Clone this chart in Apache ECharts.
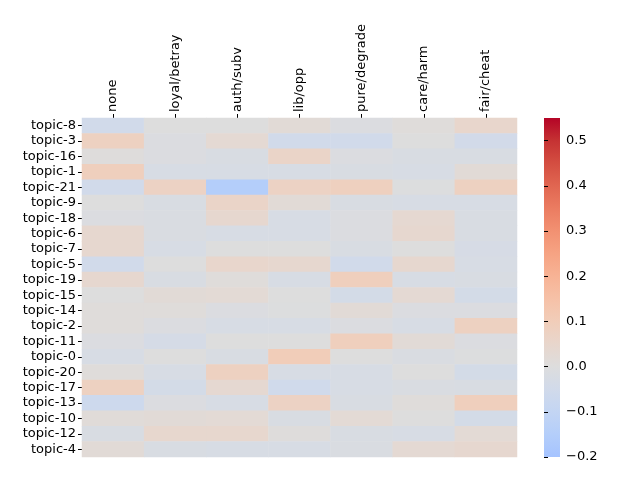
<!DOCTYPE html>
<html>
<head>
<meta charset="utf-8">
<script src="https://cdn.jsdelivr.net/npm/echarts@6/dist/echarts.min.js"></script>
<style>
    html, body {margin: 0; padding: 0; background: #fff;}
    #chart {width: 640px; height: 480px;}
</style>
</head>
<body>
<div id="chart"></div>
<script>
// column and row labels
var columns = ["none", "loyal/betray", "auth/subv", "lib/opp", "pure/degrade", "care/harm", "fair/cheat"];
var topics = ["topic-8", "topic-3", "topic-16", "topic-1", "topic-21", "topic-9", "topic-18", "topic-6", "topic-7", "topic-5",
    "topic-19", "topic-15", "topic-14", "topic-2", "topic-11", "topic-0", "topic-20", "topic-17", "topic-13", "topic-10",
    "topic-12", "topic-4"];

// values per column, top row to bottom row
var noneVals = [-0.05, 0.08, 0.005, 0.09, -0.05, 0, -0.01, 0.04, 0.04, -0.05, 0.04, 0, 0.01, 0.01, -0.01, -0.025, 0.01, 0.08, -0.065, 0.015, -0.02, 0.02];
var loyalVals = [0, -0.01, -0.01, -0.025, 0.07, -0.02, -0.015, -0.015, -0.025, 0, -0.02, 0.02, 0.01, -0.01, -0.035, 0, -0.025, -0.04, -0.01, 0.02, 0.045, -0.02];
var authVals = [0, 0.03, -0.02, -0.025, -0.15, 0.06, 0.04, -0.025, 0, 0.05, 0.01, 0.025, -0.01, -0.025, 0, -0.02, 0.08, 0.035, -0.025, 0.025, 0.045, -0.025];
var libVals = [0.02, -0.05, 0.06, -0.025, 0.07, 0.02, -0.025, -0.025, 0, 0.04, -0.025, 0, -0.005, -0.025, 0, 0.1, -0.025, -0.055, 0.07, -0.02, 0.005, -0.025];
var pureVals = [-0.01, -0.05, -0.01, -0.02, 0.085, -0.02, -0.01, -0.01, -0.02, -0.05, 0.09, -0.04, 0.02, -0.01, 0.09, 0, -0.025, -0.025, -0.02, 0.025, -0.02, -0.015];
var careVals = [0.01, 0, -0.02, -0.025, -0.005, -0.025, 0.035, 0.04, 0, 0.04, -0.025, 0.03, -0.01, -0.025, 0.02, -0.015, 0, -0.015, 0.01, 0, -0.025, 0.03];
var fairVals = [0.05, -0.045, -0.02, 0.02, 0.08, -0.025, -0.02, -0.02, -0.03, -0.025, -0.02, -0.04, -0.01, 0.08, -0.01, -0.005, -0.04, -0.02, 0.09, -0.04, 0.025, 0.04];

// colorbar range and ticks
var vMin = -0.2;
var vMax = 0.55;
var barTicks = [-0.2, -0.1, 0, 0.1, 0.2, 0.3, 0.4, 0.5];

var allCols = [noneVals, loyalVals, authVals, libVals, pureVals, careVals, fairVals];

var heatData = [];
for (let c = 0; c < allCols.length; c++) {
    for (let r = 0; r < topics.length; r++) {
        heatData.push([c, r, allCols[c][r]]);
    }
}

// coolwarm, centred on 0 (cut at -0.2)
var coolwarm = ["#a5c3ff", "#b4cefa", "#c3d5f3", "#d1daea", "#dddddd", "#e8d6cc", "#f1cdb9", "#f6c1a7",
    "#f7b395", "#f6a383", "#f29172", "#eb7c61", "#e06651", "#d44e41", "#c53233", "#b40426"];

// gradient for the colorbar, bottom (min) to top (max)
let barStops = [];
for (let i = 0; i < coolwarm.length; i++) {
    barStops.push({offset: 1 - i / (coolwarm.length - 1), color: coolwarm[i]});
}
barStops.reverse();

var labelFont = {color: "#000", fontSize: 13, fontFamily: "DejaVu Sans"};

var myChart = echarts.init(document.getElementById("chart"));
var option = {
    animation: false,
    grid: [
        {left: 82, top: 118, width: 435, height: 339, containLabel: false},
        {left: 544, top: 118, width: 16, height: 339, containLabel: false}
    ],
    xAxis: [{
        type: "category",
        gridIndex: 0,
        position: "top",
        data: columns,
        axisLine: {show: false},
        axisTick: {show: true, alignWithLabel: true, length: 4, lineStyle: {color: "#000"}},
        axisLabel: Object.assign({rotate: -90, margin: 6, interval: 0}, labelFont),
        splitLine: {show: false}
    }, {
        type: "value",
        gridIndex: 1,
        show: false
    }],
    yAxis: [{
        type: "category",
        gridIndex: 0,
        inverse: true,
        data: topics,
        axisLine: {show: false},
        axisTick: {show: true, alignWithLabel: true, length: 4, lineStyle: {color: "#000"}},
        axisLabel: Object.assign({margin: 6, interval: 0}, labelFont),
        splitLine: {show: false}
    }, {
        type: "value",
        gridIndex: 1,
        position: "right",
        min: vMin,
        max: vMax,
        axisLine: {show: false},
        axisTick: {show: true, length: 4, customValues: barTicks, lineStyle: {color: "#000"}},
        axisLabel: Object.assign({
            margin: 6,
            customValues: barTicks,
            formatter: function (v) {
                return v.toFixed(1).replace("-", "\u2212");
            }
        }, labelFont),
        splitLine: {show: false}
    }],
    visualMap: {
        type: "continuous",
        seriesIndex: 0,
        min: vMin,
        max: vMax,
        show: false,
        inRange: {color: coolwarm}
    },
    graphic: [{
        type: "rect",
        left: 544,
        top: 118,
        shape: {width: 16, height: 339},
        style: {fill: new echarts.graphic.LinearGradient(0, 0, 0, 1, barStops)},
        silent: true
    }],
    series: [{
        type: "heatmap",
        xAxisIndex: 0,
        yAxisIndex: 0,
        data: heatData,
        itemStyle: {borderWidth: 0},
        emphasis: {disabled: true}
    }]
};
myChart.setOption(option);
</script>
</body>
</html>
